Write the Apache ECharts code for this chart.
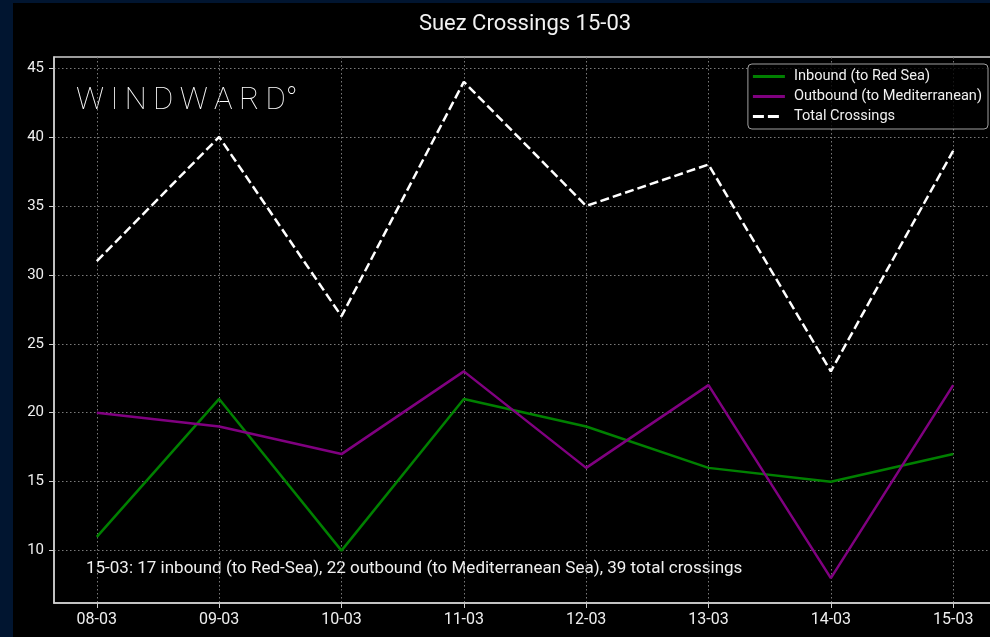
<!DOCTYPE html>
<html>
<head>
<meta charset="utf-8">
<script src="https://cdn.jsdelivr.net/npm/echarts@6/dist/echarts.min.js"></script>
<style>
  html, body { margin: 0; padding: 0; background: #011530; }
  #chart { position: absolute; left: 13px; top: 3px; width: 977px; height: 634px; }
</style>
</head>
<body>
<div id="chart"></div>
<script>
// dates on the x axis
var days = ['08-03', '09-03', '10-03', '11-03', '12-03', '13-03', '14-03', '15-03'];
// daily crossings
var inbound = [11, 21, 10, 21, 19, 16, 15, 17];
var outbound = [20, 19, 17, 23, 16, 22, 8, 22];
var total = [31, 40, 27, 44, 35, 38, 23, 39];
var yTicks = [10, 15, 20, 25, 30, 35, 40, 45];

var xIdx = days.map(function (d, i) { return i; });
function pairs(arr) {
  return arr.map(function (v, i) { return [i, v]; });
}

var font = 'Roboto, "DejaVu Sans", sans-serif';
var solidIcon = 'path://M0,0H32V3H0Z';
var dashIcon = 'path://M0,0H11V3H0ZM15,0H26V3H15ZM32,0H32V3H32Z';

var chart = echarts.init(document.getElementById('chart'));

chart.setOption({
  backgroundColor: '#000000',
  animation: false,
  title: {
    text: 'Suez Crossings 15-03',
    left: 507,
    textAlign: 'center',
    top: 5,
    textStyle: { color: '#f2f2f2', fontSize: 22, fontWeight: 'normal', fontFamily: font }
  },
  grid: {
    left: 41,
    top: 54,
    width: 942,
    bottom: 34,
    containLabel: false,
    outerBoundsMode: 'none',
    show: true,
    borderColor: '#cfcfcf',
    borderWidth: 1.5,
    backgroundColor: 'transparent'
  },
  legend: {
    orient: 'vertical',
    right: 2,
    top: 61,
    padding: [5, 6, 5, 5],
    itemWidth: 32,
    itemHeight: 3,
    itemGap: 5,
    backgroundColor: 'rgba(0,0,0,0.8)',
    borderColor: '#a0a0a0',
    borderWidth: 1,
    borderRadius: 4,
    textStyle: { color: '#f0f0f0', fontSize: 14.6, fontFamily: font, padding: [0, 0, 0, 4] },
    data: [
      { name: 'Inbound (to Red Sea)', icon: solidIcon },
      { name: 'Outbound (to Mediterranean)', icon: solidIcon },
      { name: 'Total Crossings', icon: dashIcon }
    ]
  },
  xAxis: {
    type: 'value',
    min: -0.35,
    max: 7.35,
    axisLine: { show: true, onZero: false, lineStyle: { color: '#cfcfcf', width: 1.5 } },
    axisTick: { show: true, length: 5, customValues: xIdx, lineStyle: { color: '#cfcfcf' } },
    axisLabel: {
      customValues: xIdx,
      color: '#eeeeee',
      fontSize: 16,
      fontFamily: font,
      margin: 9,
      formatter: function (v) { return days[Math.round(v)]; }
    },
    splitLine: { show: true, lineStyle: { color: '#7a7a7a', type: [1.5, 2.5], width: 1 } }
  },
  yAxis: {
    type: 'value',
    min: 6.2,
    max: 45.8,
    axisLine: { show: true, onZero: false, lineStyle: { color: '#cfcfcf', width: 1.5 } },
    axisTick: { show: true, length: 5, customValues: yTicks, lineStyle: { color: '#cfcfcf' } },
    axisLabel: {
      customValues: yTicks,
      color: '#eeeeee',
      fontSize: 15,
      fontFamily: font,
      margin: 10
    },
    splitLine: { show: true, lineStyle: { color: '#7a7a7a', type: [1.5, 2.5], width: 1 } }
  },
  graphic: [
    {
      type: 'text',
      left: 63,
      top: 83,
      style: {
        text: 'W\u2009I\u2009N\u2009D\u2009W\u2009A\u2009R\u2009D\u00b0',
        fill: '#ffffff',
        fontSize: 31,
        fontWeight: 'lighter',
        fontFamily: font
      }
    },
    {
      type: 'text',
      left: 73,
      top: 557,
      style: {
        text: '15-03: 17 inbound (to Red-Sea), 22 outbound (to Mediterranean Sea), 39 total crossings',
        fill: '#f0f0f0',
        fontSize: 17,
        fontFamily: font
      }
    }
  ],
  series: [
    {
      name: 'Inbound (to Red Sea)',
      type: 'line',
      data: pairs(inbound),
      showSymbol: false,
      symbol: 'none',
      lineStyle: { color: '#008000', width: 2.5 },
      itemStyle: { color: '#008000' }
    },
    {
      name: 'Outbound (to Mediterranean)',
      type: 'line',
      data: pairs(outbound),
      showSymbol: false,
      symbol: 'none',
      lineStyle: { color: '#800080', width: 2.5 },
      itemStyle: { color: '#800080' }
    },
    {
      name: 'Total Crossings',
      type: 'line',
      data: pairs(total),
      showSymbol: false,
      symbol: 'none',
      lineStyle: { color: '#ffffff', width: 2.5, type: [9, 4] },
      itemStyle: { color: '#ffffff' }
    }
  ]
});
</script>
</body>
</html>
